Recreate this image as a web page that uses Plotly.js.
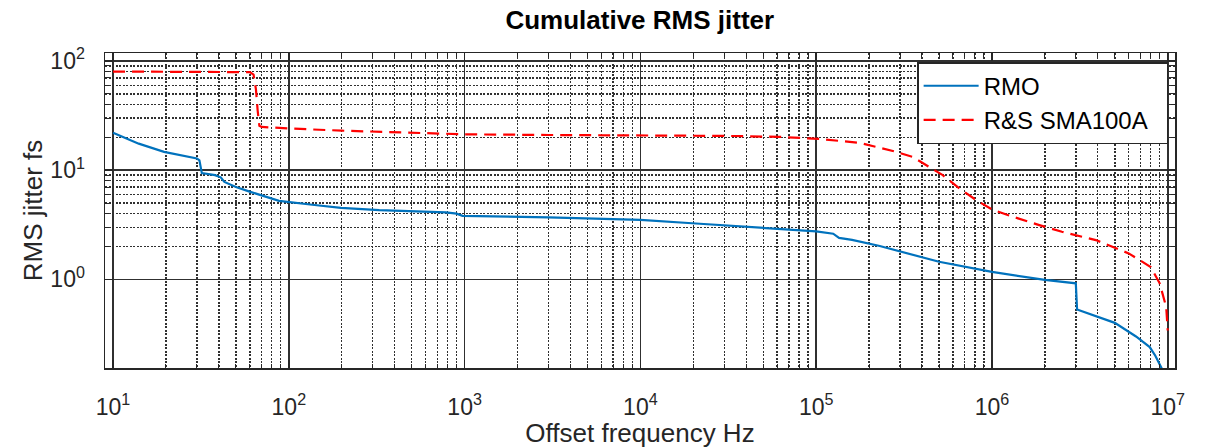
<!DOCTYPE html>
<html>
<head>
<meta charset="utf-8">
<script src="https://cdn.plot.ly/plotly-3.0.1.min.js"></script>
<style>
  html, body { margin: 0; padding: 0; background: #ffffff; }
  #chart { width: 1214px; height: 448px; }
</style>
</head>
<body>
<div id="chart"></div>
<script>
// ---- Data ----
const rmoFreq = [10, 14, 19.5, 25, 30, 31, 32, 38, 41, 43, 50, 61, 75, 88, 140, 198, 327, 600, 781, 900, 973, 3000, 10000, 20700, 36500, 70500, 100000, 125000, 135000, 160000, 230000, 500000, 1000000, 2000000, 3000000, 3050000, 5000000, 6600000, 7900000, 8500000, 9300000];
const rmoJitter = [22, 17.5, 14.7, 13.5, 12.8, 12.3, 9.4, 9.0, 8.6, 7.8, 7.0, 6.3, 5.7, 5.24, 4.8, 4.52, 4.3, 4.15, 4.1, 4.0, 3.82, 3.7, 3.5, 3.25, 3.07, 2.87, 2.75, 2.62, 2.4, 2.3, 2.02, 1.45, 1.17, 0.99, 0.92, 0.53, 0.40, 0.30, 0.24, 0.20, 0.15];

const smaFreq = [10, 30, 60, 63, 65, 66.5, 68, 70, 100, 200, 500, 1000, 3000, 10000, 30000, 62000, 105000, 176000, 273000, 355000, 440000, 525000, 653000, 813000, 1000000, 1320000, 1860000, 2500000, 3900000, 6000000, 8000000, 9000000, 9800000, 10000000];
const smaJitter = [80, 80, 79, 75, 55, 35, 25.5, 24.9, 24.1, 23, 22, 21.3, 21, 20.9, 20.6, 20.2, 19.3, 17.8, 15.0, 13.2, 10.7, 9.0, 6.8, 5.32, 4.37, 3.74, 3.14, 2.73, 2.29, 1.73, 1.30, 0.92, 0.56, 0.34];

const seriesNames = ["RMO", "R&S SMA100A"];

const xTickVals = [10, 100, 1000, 10000, 100000, 1000000, 10000000];
const xTickText = ["10<sup>1</sup>", "10<sup>2</sup>", "10<sup>3</sup>", "10<sup>4</sup>", "10<sup>5</sup>", "10<sup>6</sup>", "10<sup>7</sup>"];
const yTickVals = [1, 10, 100];
const yTickText = ["10<sup>0</sup>", "10<sup>1</sup>", "10<sup>2</sup>"];

const xMinorVals = [20,30,40,50,60,70,80,90, 200,300,400,500,600,700,800,900, 2000,3000,4000,5000,6000,7000,8000,9000, 20000,30000,40000,50000,60000,70000,80000,90000, 200000,300000,400000,500000,600000,700000,800000,900000, 2000000,3000000,4000000,5000000,6000000,7000000,8000000,9000000];
const yMinorVals = [2,3,4,5,6,7,8,9, 20,30,40,50,60,70,80,90];

const titleText = "Cumulative RMS jitter";
const xTitle = "Offset frequency Hz";
const yTitle = "RMS jitter fs";

// ---- Chart ----
const FONT = "Liberation Sans, Arial, Helvetica, sans-serif";
const INK = "#262626";
const GRID = "#303030";
const PAD = "\u00a0\u00a0";   // invisible right padding inside the legend box

const traces = [
  {
    x: rmoFreq, y: rmoJitter, name: seriesNames[0],
    type: "scatter", mode: "lines",
    line: { color: "#0072BD", width: 2.2 }
  },
  {
    x: smaFreq, y: smaJitter, name: seriesNames[1] + PAD,
    type: "scatter", mode: "lines",
    line: { color: "#FF0000", width: 2.2, dash: "12px,7px" }
  }
];

const axisCommon = {
  type: "log",
  showline: true, linecolor: INK, linewidth: 1.5, mirror: "allticks",
  ticks: "inside", ticklen: 8, tickwidth: 1.5, tickcolor: INK,
  tickmode: "array",
  showgrid: true, gridcolor: GRID, gridwidth: 1.6,
  zeroline: false,
  tickfont: { family: FONT, size: 23, color: INK }
};

const minorCommon = {
  ticks: "inside", ticklen: 4, tickcolor: INK, tickwidth: 1,
  showgrid: true, gridcolor: GRID, gridwidth: 1.4, griddash: "2px,1.5px"
};

const layout = {
  width: 1214, height: 448,
  margin: { l: 105, r: 39, t: 53, b: 80 },
  paper_bgcolor: "#ffffff",
  plot_bgcolor: "#ffffff",
  font: { family: FONT, color: INK },
  title: {
    text: "<b>" + titleText + "</b>",
    font: { family: FONT, size: 26, color: "#000000" },
    x: 0.527, xref: "container", xanchor: "center",
    y: 0.955, yref: "container", yanchor: "middle"
  },
  xaxis: Object.assign({}, axisCommon, {
    range: [Math.log10(9), Math.log10(1.1e7)],
    tickvals: xTickVals, ticktext: xTickText,
    ticklabelstandoff: 18,
    minor: Object.assign({ tickvals: xMinorVals }, minorCommon),
    title: { text: xTitle, font: { family: FONT, size: 26, color: INK }, standoff: 4 }
  }),
  yaxis: Object.assign({}, axisCommon, {
    range: [-0.8115, 2.073],
    tickvals: yTickVals, ticktext: yTickText,
    ticklabelstandoff: 14,
    minor: Object.assign({ tickvals: yMinorVals }, minorCommon),
    title: { text: yTitle, font: { family: FONT, size: 26, color: INK }, standoff: 0 }
  }),
  legend: {
    x: 0.759, y: 0.971, xanchor: "left", yanchor: "top",
    bgcolor: "#ffffff", bordercolor: INK, borderwidth: 1.5,
    font: { family: FONT, size: 24, color: "#000000" },
    itemwidth: 55, tracegroupgap: 0
  },
  showlegend: true
};

Plotly.newPlot("chart", traces, layout, { displayModeBar: false, staticPlot: true });
</script>
</body>
</html>
